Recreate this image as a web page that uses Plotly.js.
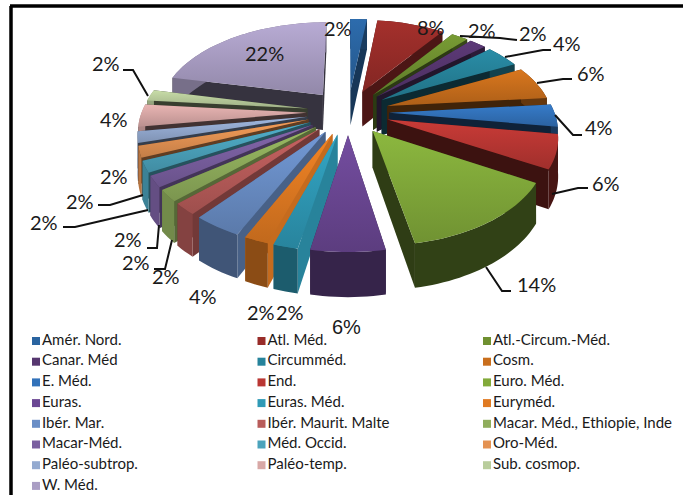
<!DOCTYPE html>
<html>
<head>
<meta charset="utf-8">
<script src="https://cdn.plot.ly/plotly-3.0.0.min.js"></script>
<style>html,body{margin:0;padding:0;background:#fff}</style>
</head>
<body>
<div id="chart" style="width:683px;height:495px"></div>
<script>
// Chorological spectrum, percentage per element
const categories = ["Amér. Nord.","Atl. Méd.","Atl.-Circum.-Méd.","Canar. Méd","Circumméd.","Cosm.","E. Méd.","End.","Euro. Méd.","Euras.","Euras. Méd.","Euryméd.","Ibér. Mar.","Ibér. Maurit. Malte","Macar. Méd., Ethiopie, Inde","Macar-Méd.","Méd. Occid.","Oro-Méd.","Paléo-subtrop.","Paléo-temp.","Sub. cosmop.","W. Méd."];
const values = [2,8,2,2,4,6,4,6,14,6,2,2,4,2,2,2,2,2,2,4,2,22];

const topColors = ["#2a64a0","#982c29","#6f9030","#56366f","#26839b","#c96e1c","#3272ba","#ba3733","#82aa3a","#6b4794","#2f9ab6","#e07a22","#6a8ec6","#b85c5a","#8fad5c","#7a5fa0","#4ba3bc","#e49252","#94aad0","#d8a8a6","#b9cd9c","#aa9ec4"];
const edgeShade = [0.55,0.5,0.4,0.4,0.32,0.32,0.3,0.32,0.36,0.5,0.85,0.88,0.68,0.62,0.6,0.55,0.5,0.42,0.36,0.3,0.3,0.32];
const rimShade = [0.6,0.5,0.5,0.5,0.5,0.5,0.5,0.38,0.38,0.5,0.6,0.62,0.6,0.72,0.8,0.82,0.8,0.8,0.8,0.8,0.8,0.7];

// Where each percentage sits, and the bend of its leader when it has one
const labelSpots = [[338,28],[431,27],[533,33],[482,30],[567,43],[591,73],[599,127],[606,183],[536,284],[346,327],[290,312],[261,312],[203,296],[166,276],[136,262],[128,239],[44,222],[80,201],[114,176],[114,119],[106,63],[264,53]];
const leaderPaths = {2:[[460,36],[500,38],[517,40]],4:[[505,57],[543,50],[551,50]],5:[[537,83],[563,79],[572,79]],6:[[555,115],[573,135],[582,135]],7:[[552,194],[578,188],[588,188]],8:[[486,267],[502,291],[511,291]],14:[[172,240],[165,269],[154,269]],15:[[159,225],[157,248],[147,248]],16:[[148,210],[75,227],[63,227]],17:[[143,195],[110,205],[98,205]],20:[[148,96],[133,70],[123,70]]};

// Camera and pie proportions
const view = {cx:348, cy:112, rx:165, ry:89.5, persp:0.161, pull:0.25, depth:36};

function project(x, y, z) {
  const w = 1 + view.persp * y;
  return [view.cx + view.rx * x / w, view.cy - view.ry * y / w + view.depth * z / w];
}
function shade(hex, f) {
  const n = parseInt(hex.slice(1), 16);
  const c = [n >> 16, (n >> 8) & 255, n & 255].map(v => Math.min(255, Math.round(v * f)));
  return `rgb(${c[0]},${c[1]},${c[2]})`;
}
function polygon(points, color) {
  return {type:'scatter', mode:'none', fill:'toself', fillcolor:color,
          x:points.map(p => p[0]), y:points.map(p => p[1]), hoverinfo:'skip', showlegend:false};
}

const total = values.reduce((a, b) => a + b, 0);
let running = 0;
const slices = values.map((v, i) => {
  const a0 = running / total * 2 * Math.PI;
  running += v;
  const a1 = running / total * 2 * Math.PI;
  const mid = (a0 + a1) / 2;
  const ox = view.pull * Math.sin(mid), oy = view.pull * Math.cos(mid);
  const n = Math.max(4, Math.round((a1 - a0) / 0.03));
  const arc = [];
  for (let k = 0; k <= n; k++) {
    const a = a0 + (a1 - a0) * k / n;
    arc.push([ox + Math.sin(a), oy + Math.cos(a)]);
  }
  return {i, mid, ox, oy, arc, order: oy + 0.6 * Math.cos(mid)};
});

// Back slices are painted first so the nearer ones cover them
const traces = [];
slices.slice().sort((a, b) => b.order - a.order).forEach(s => {
  const col = topColors[s.i];
  const first = s.arc[0], last = s.arc[s.arc.length - 1];
  const wallA = [[s.ox,s.oy,0],[first[0],first[1],0],[first[0],first[1],1],[s.ox,s.oy,1]].map(p => project(...p));
  const wallB = [[s.ox,s.oy,0],[last[0],last[1],0],[last[0],last[1],1],[s.ox,s.oy,1]].map(p => project(...p));
  const rim = s.arc.map(p => project(p[0], p[1], 0)).concat(s.arc.slice().reverse().map(p => project(p[0], p[1], 1)));
  traces.push(polygon(wallA, shade(col, edgeShade[s.i])));
  traces.push(polygon(wallB, shade(col, edgeShade[s.i])));
  traces.push(polygon(rim, shade(col, rimShade[s.i])));
  const face = polygon([project(s.ox, s.oy, 0)].concat(s.arc.map(p => project(p[0], p[1], 0))), col);
  delete face.fillcolor;
  face.fillgradient = {type:'vertical', colorscale:[[0, shade(col, 0.86)], [1, shade(col, 1.08)]]};
  traces.push(face);
});

// Leader lines start on the slice they belong to and end next to the label
Object.keys(leaderPaths).forEach(k => {
  const path = leaderPaths[k];
  traces.push({type:'scatter', mode:'lines', x:path.map(p => p[0]), y:path.map(p => p[1]),
               line:{color:'#111', width:2}, hoverinfo:'skip', showlegend:false});
});

// Key: three columns read left to right
const keyX = categories.map((c, i) => 36 + 225.5 * (i % 3));
const keyY = categories.map((c, i) => 341 + 20.7 * Math.floor(i / 3));
traces.push({type:'scatter', mode:'markers+text', x:keyX, y:keyY, text:categories,
             textposition:'middle right', textfont:{family:'Lato, sans-serif', size:15, color:'#1a1a1a'},
             marker:{symbol:'square', size:8, color:topColors}, hoverinfo:'skip', showlegend:false, cliponaxis:false});

const annotations = values.map((v, i) => ({
  x:labelSpots[i][0], y:labelSpots[i][1], xref:'x', yref:'y', showarrow:false,
  text:v + '%',
  font:{family:i === 9 ? 'Liberation Sans, sans-serif' : 'Lato, sans-serif', size:20, color:'#1a1a1a'}
}));

const layout = {
  width:683, height:495, margin:{l:0, r:0, t:0, b:0}, paper_bgcolor:'#fff', plot_bgcolor:'#fff',
  showlegend:false,
  xaxis:{range:[0,683], visible:false, fixedrange:true},
  yaxis:{range:[495,0], visible:false, fixedrange:true},
  annotations,
  shapes:[
    {type:'line', xref:'x', yref:'y', x0:11, x1:11, y0:6, y1:495, line:{color:'#000', width:3.5}},
    {type:'line', xref:'x', yref:'y', x0:10, x1:683, y0:6, y1:6, line:{color:'#000', width:3.5}}
  ]
};
Plotly.newPlot('chart', traces, layout, {displayModeBar:false, staticPlot:true});
</script>
</body>
</html>
